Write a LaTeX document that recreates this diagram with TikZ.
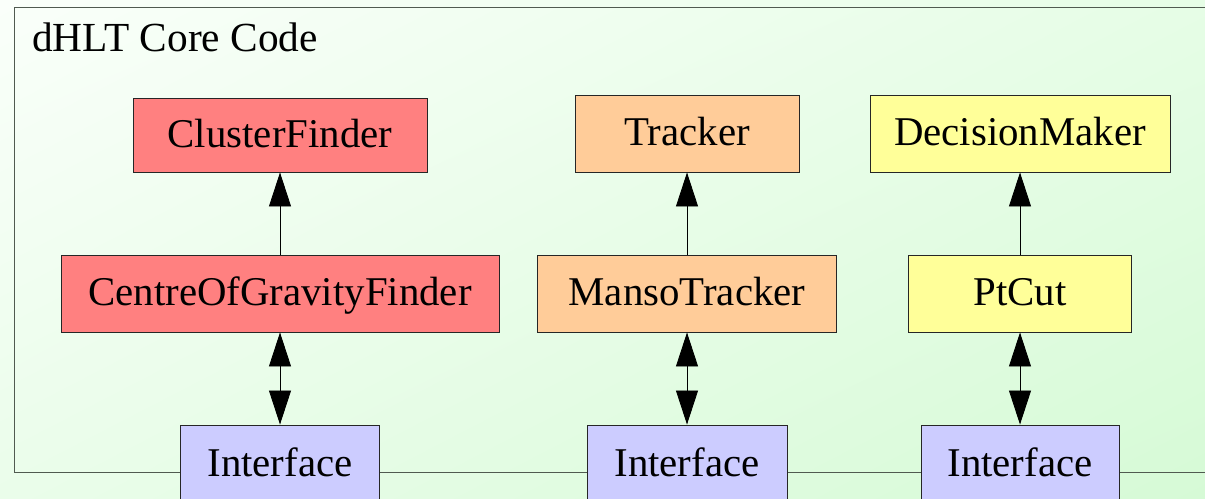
\documentclass[tikz,border=0pt]{standalone}
\usepackage{fontspec}
\setmainfont{Liberation Serif}
\newfontfamily\tms{Liberation Serif}
\usetikzlibrary{arrows.meta,shadings}
\definecolor{bgTL}{HTML}{FAFFFA}
\definecolor{bgTR}{HTML}{E6FDE6}
\definecolor{bgBL}{HTML}{EAFDEA}
\definecolor{bgBR}{HTML}{D6FAD6}
\definecolor{redbox}{HTML}{FF8080}
\definecolor{orangebox}{HTML}{FFCC99}
\definecolor{yellowbox}{HTML}{FFFF99}
\definecolor{bluebox}{HTML}{CCCCFF}
\definecolor{frame}{HTML}{505A50}
\begin{document}
\begin{tikzpicture}[x=1bp,y=-1bp,
  box/.style={draw=black!85, line width=0.9bp, inner sep=0pt, minimum height=77bp,
    text height=30bp, text depth=5bp,
    font=\tms\fontsize{41}{48}\selectfont},
  bigtip/.style={line width=0.8bp},
  tri/.tip={Triangle[length=34bp,width=22bp]}]
\useasboundingbox (0,0) rectangle (1205,499);
\clip (0,0) rectangle (1205,499);
\shade[upper left=bgTL, upper right=bgTR, lower left=bgBL, lower right=bgBR] (0,0) rectangle (1205,499);
\draw[frame, line width=1bp] (14,8) rectangle (1230,472);
\node[anchor=base west, inner sep=0pt, font=\tms\fontsize{41.5}{48}\selectfont] (title) at (32,52) {dHLT Core Code};

\node[box, fill=redbox, minimum width=294bp, minimum height=74bp] (cf) at (280,135) {ClusterFinder};
\node[box, fill=redbox, minimum width=438bp] (cog) at (280,293.5) {CentreOfGravityFinder};
\node[box, fill=bluebox, minimum width=199bp] (if1) at (280,463.5) {Interface};

\node[box, fill=orangebox, minimum width=224bp] (tr) at (687,133.5) {Tracker};
\node[box, fill=orangebox, minimum width=299bp] (mt) at (687,293.5) {MansoTracker};
\node[box, fill=bluebox, minimum width=200bp] (if2) at (687,463.5) {Interface};

\node[box, fill=yellowbox, minimum width=300bp] (dm) at (1020,133.5) {DecisionMaker};
\node[box, fill=yellowbox, minimum width=223bp] (pt) at (1020,293.5) {PtCut};
\node[box, fill=bluebox, minimum width=198bp] (if3) at (1020,463.5) {Interface};

\draw[bigtip, -tri] (cog) -- (cf);
\draw[bigtip, tri-tri] (cog) -- (if1);
\draw[bigtip, -tri] (mt) -- (tr);
\draw[bigtip, tri-tri] (mt) -- (if2);
\draw[bigtip, -tri] (pt) -- (dm);
\draw[bigtip, tri-tri] (pt) -- (if3);
\end{tikzpicture}
\end{document}
